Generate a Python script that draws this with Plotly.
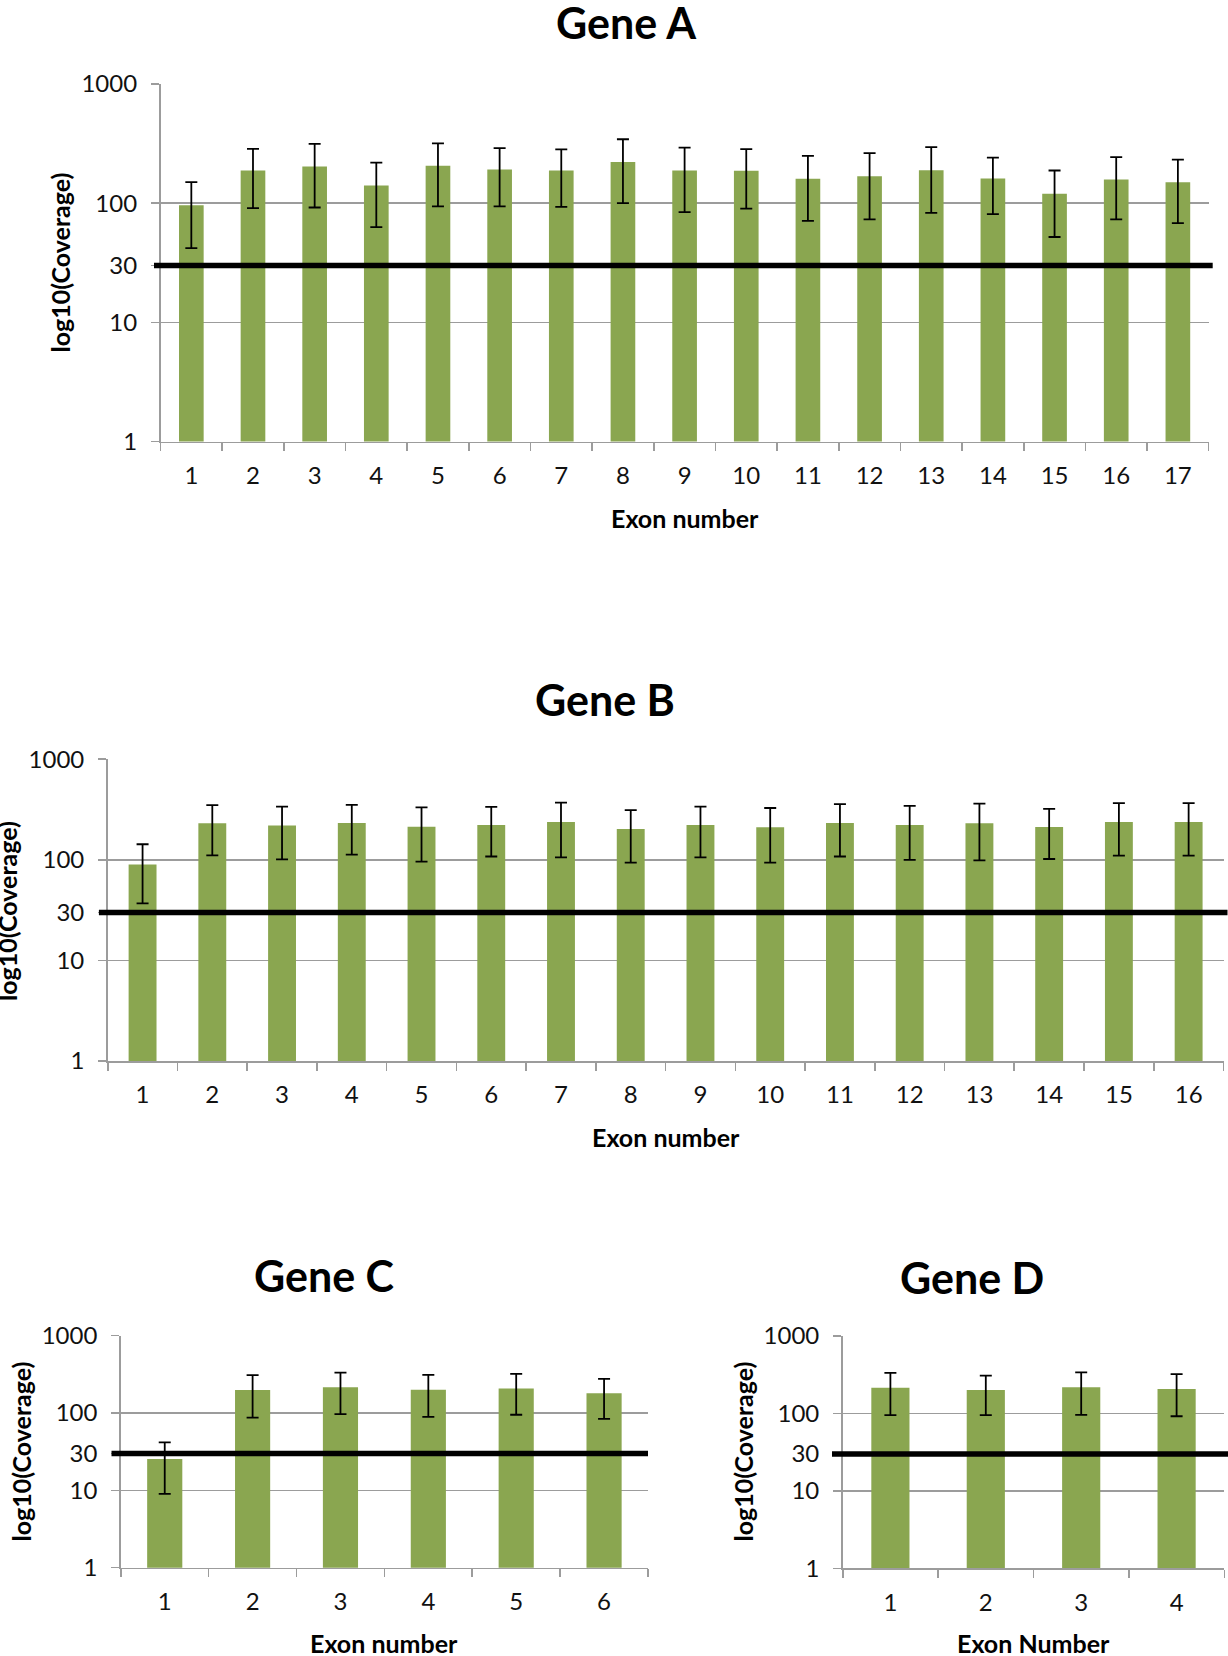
import plotly.graph_objects as go

W, H = 1228, 1656

# ---------------- data ----------------
gene_a_exons = [str(i) for i in range(1, 18)]
gene_a_mean = [96, 188, 203, 141, 206, 192, 188, 222, 188, 187, 160, 168, 189, 161, 120, 158, 150]
gene_a_err = [54, 97, 111, 78, 112, 98, 95, 122, 104, 97, 89, 95, 106, 80, 68, 85, 82]

gene_b_exons = [str(i) for i in range(1, 17)]
gene_b_mean = [90, 231, 220, 233, 214, 222, 238, 203, 222, 211, 233, 222, 231, 212, 238, 238]
gene_b_err = [53, 120, 119, 120, 118, 114, 132, 109, 116, 117, 125, 122, 132, 110, 128, 128]

gene_c_exons = [str(i) for i in range(1, 7)]
gene_c_mean = [25.4, 198, 215, 200, 208, 180]
gene_c_err = [16.4, 111, 118, 111, 113, 96]

gene_d_exons = [str(i) for i in range(1, 5)]
gene_d_mean = [215, 201, 218, 207]
gene_d_err = [120, 106, 122, 115]

THRESHOLD = 30
y_tickvals = [1, 10, 30, 100, 1000]
y_ticktext = ["1", "10", "30", "100", "1000"]

# ---------------- style / layout ----------------
BAR_COLOR = "#8AA650"
GRID = "#9C9C9C"
FONT = "Lato"
TICK_FONT = dict(family=FONT, size=24, color="#111111")
TITLE_FONT = dict(family=FONT, size=43, color="#000000")
AXT_FONT = dict(family=FONT, size=25, color="#000000")

panels = [
    dict(title="Gene A", exons=gene_a_exons, mean=gene_a_mean, err=gene_a_err, xtitle="Exon number",
         box=(160.5, 84, 1208.7, 441.5), title_xy=(626, 23), ytitle_xy=(60, 262.5),
         xtitle_y=518, ext=(6.5, 4)),
    dict(title="Gene B", exons=gene_b_exons, mean=gene_b_mean, err=gene_b_err, xtitle="Exon number",
         box=(107.7, 759.3, 1223.5, 1061), title_xy=(604.5, 699), ytitle_xy=(7, 911),
         xtitle_y=1136.7, ext=(8.8, 4)),
    dict(title="Gene C", exons=gene_c_exons, mean=gene_c_mean, err=gene_c_err, xtitle="Exon number",
         box=(120.8, 1335.7, 648, 1567.7), title_xy=(324, 1275.5), ytitle_xy=(20.5, 1452),
         xtitle_y=1643, ext=(9.3, 0)),
    dict(title="Gene D", exons=gene_d_exons, mean=gene_d_mean, err=gene_d_err, xtitle="Exon Number",
         box=(842.7, 1336, 1224.3, 1568.3), title_xy=(971.7, 1277.5), ytitle_xy=(742.5, 1452),
         xtitle_y=1643, ext=(10.7, 4)),
]

fig = go.Figure()
annotations = []
shapes = []
layout_axes = {}

for i, p in enumerate(panels, start=1):
    sfx = "" if i == 1 else str(i)
    xa, ya = "x" + sfx, "y" + sfx
    x0, y0, x1, y1 = p["box"]
    fig.add_trace(go.Bar(
        x=p["exons"], y=p["mean"], xaxis=xa, yaxis=ya,
        marker=dict(color=BAR_COLOR, line=dict(width=0)),
        error_y=dict(type="data", array=p["err"], visible=True,
                     color="#000000", thickness=1.8, width=6),
        showlegend=False, hoverinfo="skip",
    ))
    layout_axes["xaxis" + sfx] = dict(
        domain=[x0 / W, x1 / W], anchor=ya, type="category", automargin=False,
        showgrid=False, showline=True, linecolor=GRID, linewidth=1.6,
        ticks="outside", tickson="boundaries", ticklen=8, tickcolor=GRID, tickwidth=1.6,
        tickfont=TICK_FONT, ticklabelstandoff=12, zeroline=False, fixedrange=True,
    )
    layout_axes["yaxis" + sfx] = dict(
        domain=[1 - y1 / H, 1 - y0 / H], anchor=xa, type="log", range=[0, 3], automargin=False,
        tickvals=y_tickvals, ticktext=y_ticktext,
        showgrid=True, gridcolor=GRID, gridwidth=1.6,
        showline=True, linecolor=GRID, linewidth=1.6,
        ticks="outside", ticklen=8, tickcolor=GRID, tickwidth=1.6,
        tickfont=TICK_FONT, ticklabelstandoff=9, zeroline=False, fixedrange=True,
    )
    width_px = x1 - x0
    shapes.append(dict(
        type="line", xref=xa + " domain", yref=ya,
        x0=-p["ext"][0] / width_px, x1=1 + p["ext"][1] / width_px,
        y0=THRESHOLD, y1=THRESHOLD,
        line=dict(color="#000000", width=5.5), layer="above",
    ))
    tx, ty = p["title_xy"]
    annotations.append(dict(text="<b>%s</b>" % p["title"], x=tx / W, y=1 - ty / H,
                            xref="paper", yref="paper", showarrow=False,
                            xanchor="center", yanchor="middle", font=TITLE_FONT))
    annotations.append(dict(text="<b>%s</b>" % p["xtitle"], x=(x0 + x1) / 2 / W, y=1 - p["xtitle_y"] / H,
                            xref="paper", yref="paper", showarrow=False,
                            xanchor="center", yanchor="middle", font=AXT_FONT))
    yx, yy = p["ytitle_xy"]
    annotations.append(dict(text="<b>log10(Coverage)</b>", x=yx / W, y=1 - yy / H,
                            xref="paper", yref="paper", showarrow=False, textangle=-90,
                            xanchor="center", yanchor="middle", font=AXT_FONT))

fig.update_layout(
    template="none",
    width=W, height=H, margin=dict(l=0, r=0, t=0, b=0, autoexpand=False),
    paper_bgcolor="white", plot_bgcolor="white",
    bargap=0.6, showlegend=False,
    annotations=annotations, shapes=shapes,
    **layout_axes,
)

fig.write_html(
    "out.html",
    config={"displayModeBar": False, "staticPlot": True},
    post_script="document.body.style.margin='0';document.body.style.overflow='hidden';",
)
